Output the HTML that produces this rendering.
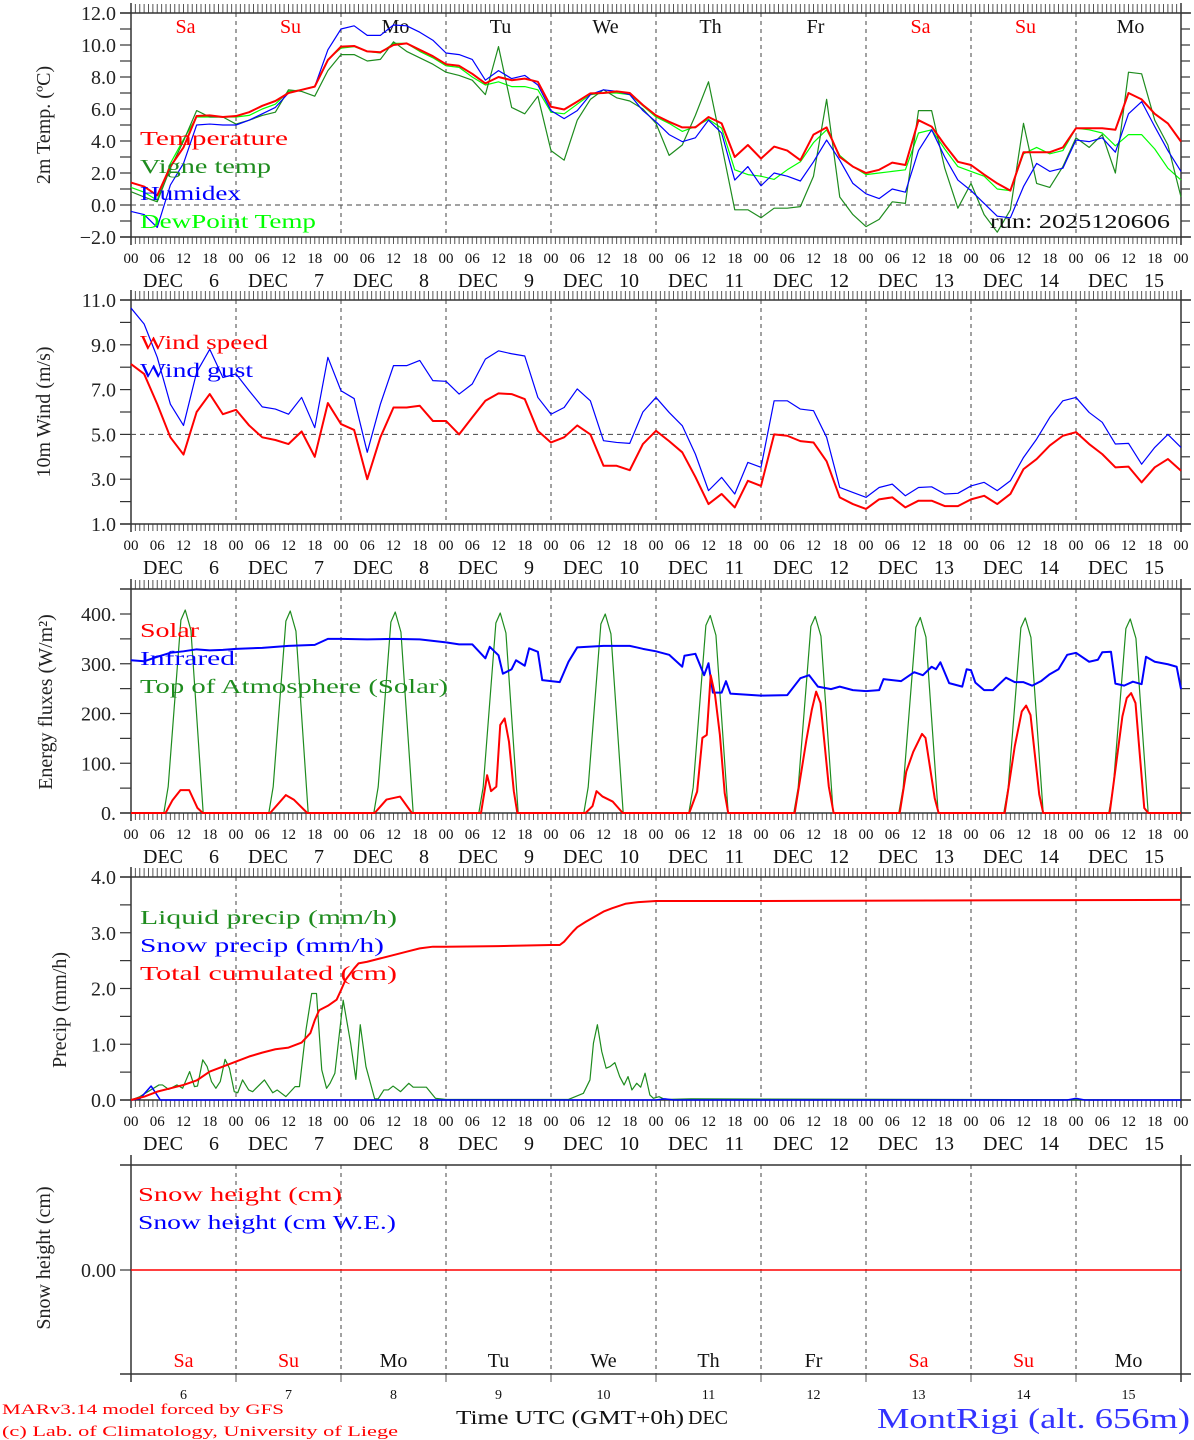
<!DOCTYPE html>
<html><head><meta charset="utf-8"><title>MontRigi meteogram</title>
<style>
html,body{margin:0;padding:0;background:#fff;}
svg{display:block;}
text{font-family:"Liberation Serif","DejaVu Serif",serif;}
</style></head>
<body>
<svg id="chart" xmlns="http://www.w3.org/2000/svg" width="1194" height="1440" viewBox="0 0 1194 1440"></svg>
<script>
// ---------- DATA ----------
const dayNames = ["Sa","Su","Mo","Tu","We","Th","Fr","Sa","Su","Mo"];
const dayNumbers = ["6","7","8","9","10","11","12","13","14","15"];
const hourLabels = ["00","06","12","18"];
const tempTicks = [-2,0,2,4,6,8,10,12];
const windTicks = [1,3,5,7,9,11];
const fluxTicks = [0,100,200,300,400];
const precipTicks = [0,1,2,3,4];

// 3-hourly series (h = 0..240)
const temperature = [1.4,1.15,0.6,2.4,3.6,5.56,5.6,5.5,5.56,5.8,6.2,6.5,7.0,7.2,7.4,9.06,9.9,9.94,9.6,9.55,10.0,10.1,9.7,9.3,8.8,8.7,8.2,7.6,8.0,7.8,7.9,7.7,6.14,5.97,6.46,6.98,7.0,7.1,7.0,6.25,5.6,5.2,4.85,4.85,5.5,5.1,3.0,3.75,2.9,3.65,3.4,2.8,4.4,4.85,3.0,2.4,2.0,2.2,2.65,2.5,5.3,4.9,3.75,2.7,2.5,1.9,1.35,0.9,3.3,3.3,3.3,3.6,4.8,4.8,4.8,4.7,7.0,6.6,5.7,5.1,3.96];
const vigneTemp = [0.83,0.5,0.2,2.3,4.0,5.9,5.5,5.5,5.06,5.3,5.6,5.8,7.2,7.1,6.8,8.4,9.4,9.4,9.0,9.1,10.2,9.6,9.2,8.8,8.3,8.1,7.8,6.9,9.9,6.1,5.7,6.8,3.4,2.8,5.3,6.6,7.2,6.7,6.5,6.0,5.1,3.1,3.75,5.6,7.7,3.75,-0.3,-0.3,-0.8,-0.2,-0.2,-0.1,1.8,6.6,0.5,-0.6,-1.35,-0.9,0.2,0.1,5.9,5.9,2.3,-0.2,1.35,-0.6,-1.7,-0.3,5.1,1.35,1.1,2.4,4.2,3.6,4.4,2.0,8.3,8.2,5.3,3.75,0.5];
const humidex = [-0.4,-0.6,-1.4,1.25,2.6,5.0,5.06,5.0,5.0,5.3,5.7,6.1,7.0,7.2,7.4,9.7,11.0,11.2,10.6,10.6,11.25,11.2,10.8,10.3,9.5,9.4,9.1,7.8,8.4,7.9,8.1,7.5,5.9,5.4,5.9,6.9,7.2,7.1,6.9,5.9,5.2,4.4,3.96,4.2,5.3,4.5,1.56,2.4,1.2,2.0,1.8,1.5,2.7,4.06,2.8,1.35,0.7,0.4,1.0,0.8,3.4,4.7,3.0,1.56,0.9,0.1,-0.7,-0.8,1.15,2.6,2.1,2.3,4.06,3.96,4.2,3.3,5.7,6.46,4.9,3.4,2.1];
const dewPoint = [1.1,0.8,0.3,2.6,4.1,5.5,5.5,5.5,5.5,5.6,6.0,6.3,7.1,7.2,7.4,9.1,9.8,9.9,9.6,9.5,10.1,10.1,9.6,9.2,8.7,8.6,8.0,7.5,7.7,7.4,7.4,7.2,5.8,5.7,6.3,6.9,7.0,7.0,6.9,6.2,5.5,5.1,4.6,4.9,5.36,4.8,2.2,1.9,1.8,1.6,2.2,2.7,3.9,4.7,3.1,2.4,1.9,2.0,2.1,2.2,4.5,4.7,3.5,2.4,2.1,1.8,1.0,0.9,3.2,3.6,3.2,3.4,4.8,4.7,4.5,3.7,4.4,4.4,3.5,2.3,1.56];
const windSpeed = [8.14,7.7,6.35,4.87,4.1,6.0,6.8,5.9,6.1,5.4,4.87,4.75,4.57,5.13,4.0,6.4,5.46,5.2,3.0,4.87,6.2,6.2,6.28,5.6,5.6,5.0,5.76,6.5,6.83,6.8,6.58,5.16,4.64,4.87,5.4,5.0,3.6,3.6,3.4,4.57,5.16,4.7,4.2,3.1,1.89,2.34,1.74,2.93,2.7,5.0,4.94,4.7,4.64,3.8,2.19,1.89,1.67,2.1,2.19,1.74,2.04,2.04,1.8,1.8,2.1,2.26,1.89,2.34,3.45,3.9,4.5,4.94,5.1,4.57,4.12,3.53,3.56,2.86,3.53,3.9,3.38];
const windGust = [10.64,9.93,8.44,6.35,5.4,7.77,8.8,7.54,7.7,6.95,6.23,6.13,5.9,6.65,5.3,8.44,6.95,6.6,4.2,6.35,8.07,8.07,8.3,7.4,7.37,6.8,7.25,8.36,8.73,8.6,8.5,6.65,5.9,6.2,7.03,6.5,4.72,4.64,4.6,6.0,6.65,5.98,5.39,4.12,2.49,3.08,2.34,3.75,3.53,6.5,6.5,6.13,6.06,4.87,2.63,2.41,2.19,2.63,2.78,2.26,2.63,2.66,2.34,2.37,2.7,2.86,2.49,2.93,3.97,4.79,5.76,6.5,6.65,5.98,5.54,4.57,4.6,3.67,4.42,5.0,4.42];

// irregular series (hour, value)
const infraredTimes = [0,3,6,9,12,15,18,21,24,30,36,42,45,48,54,60,66,69,72,75,78,81,82,84,85,87,88,90,91,93,94,96,98,100,102,108,114,117,120,123,126,126.5,129,131,132,133,135,136,137,144,150,153,155,157,160,162,165,168,171,172,176,179,181,183,184,185,187,190,191,192,193,195,197,200,202,204,206,208,210,212,214,216,219,221,222,224,225,227,229,231,232,234,237,239,240];
const infraredValues = [307,305,314,322,325,329,327,328,330,332,336,338,350,350,349,350,349,346,343,339,339,311,334,317,280,289,307,296,331,324,267,265,263,304,333,336,336,330,325,318,294,316,320,277,301,242,242,265,240,236,237,271,277,254,249,254,247,245,247,269,265,283,277,294,289,303,261,254,289,287,262,247,247,272,263,263,256,265,279,289,318,322,304,308,323,324,260,256,264,259,314,304,299,294,249];
const solarTimes = [0,7.9,9.5,11.3,13.3,15.2,16.4,31.8,35.4,37.2,40.3,55.7,58.4,61.5,64.2,80,81.4,82.3,83.5,84.4,85.4,86.4,87.5,88.3,103.9,105.5,106.4,107.8,110.1,111.7,112.4,127.6,129.4,130.6,131.6,132.5,133.5,134.6,135.7,136.5,151.7,154.4,155.6,156.6,157.6,159.5,160.6,175.7,177.2,178.8,180.8,181.6,183.7,184.6,199.7,202,203.6,204.6,205.6,207.6,208.5,223.7,226.6,227.6,228.6,229.6,231.6,232.5,240];
const solarValues = [0,0,26,46,46,10,0,0,36,27,0,0,27,33,0,0,76,44,53,177,190,143,44,0,0,14,44,33,23,7,0,0,43,151,157,277,237,157,40,0,0,148,207,244,221,53,0,0,83,123,159,151,30,0,0,134,204,216,197,37,0,0,194,231,241,221,10,0,0];
const toaPeaks = [408,406,404,402,400,397,395,393,392,390];
const toaNoonHour = 12.4;
const toaProfileOffsets = [-4.9,-3.9,-1.0,0,1.3,4.1];
const toaProfileShares = [0,0.13,0.95,1,0.9,0];

const cumulTimes = [0,3,6,9,12,15,18,21,24,27,30,33,36,39,41,42,43,45,47,48,49,51,52,54,57,60,63,66,69,72,84,96,98,99,100,101,102,104,106,108,110,113,116,120,144,192,240];
const cumulValues = [0,0.06,0.15,0.21,0.27,0.35,0.51,0.6,0.69,0.78,0.85,0.91,0.94,1.03,1.2,1.43,1.61,1.69,1.8,1.97,2.15,2.36,2.45,2.48,2.54,2.6,2.66,2.72,2.75,2.75,2.76,2.78,2.78,2.84,2.93,3.02,3.1,3.2,3.29,3.38,3.44,3.52,3.55,3.57,3.57,3.58,3.59];
const liquidTimes = [0,2,6.4,7.2,8.6,10.5,11.8,13.4,14.5,15.2,16.4,17.4,18.4,19.4,20.4,21.5,22.5,23.6,24.4,25.5,26.9,27.8,30.5,32.4,33.4,35.4,37.5,38.5,40,41.3,42.4,43.6,44.7,45.5,46.6,48.5,50.2,51.4,52.4,53.7,55.7,56.5,57.8,58.8,59.9,61.6,63.5,64.5,67.5,69.6,72,100,103.4,104.9,105.7,106.6,107.6,108.6,109.5,110.6,111.7,112.7,113.6,114.5,115.6,116.5,117.5,118.6,119.4,120.7,122,128,240];
const liquidValues = [0,0.06,0.27,0.27,0.19,0.27,0.21,0.51,0.24,0.25,0.72,0.6,0.33,0.21,0.33,0.73,0.57,0.15,0.13,0.36,0.18,0.15,0.36,0.13,0.18,0.06,0.24,0.24,1.26,1.91,1.91,0.54,0.21,0.3,0.48,1.79,1.02,0.37,1.35,0.6,0.02,0.02,0.18,0.18,0.25,0.15,0.3,0.23,0.23,0.03,0.01,0.01,0.12,0.36,1.02,1.35,0.87,0.57,0.6,0.67,0.42,0.27,0.42,0.18,0.3,0.23,0.48,0.09,0.03,0.06,0.01,0.02,0];
const snowPrecipTimes = [0,2,4.6,6.7,120,122,124,214,216,218,240];
const snowPrecipValues = [0,0.02,0.25,0,0,0.02,0,0,0.03,0,0];
const snowHeightTimes = [0,240];
const snowHeightValues = [0,0];

// ---------- GEOMETRY ----------
const NS = "http://www.w3.org/2000/svg";
const svg = document.getElementById("chart");
const X0 = 131, X1 = 1181;
function xh(h){ return X0 + h*(X1-X0)/240; }
function makeY(top,bottom,vmin,vmax){ return v => bottom - (v-vmin)*(bottom-top)/(vmax-vmin); }
const P1 = {top:13,bottom:237,y:makeY(13,237,-2,12)};
const P2 = {top:300,bottom:524,y:makeY(300,524,1,11)};
const P3 = {top:589,bottom:813,y:makeY(614,813,0,400)};
const P4 = {top:877,bottom:1100,y:makeY(877,1100,0,4)};
const P5 = {top:1165,bottom:1374,y:makeY(1165,1375,1,-1)};
const hours3 = [];
for(let i=0;i<=80;i++){ hours3.push(i*3); }

function el(tag, attrs, name, parent){
  const e = document.createElementNS(NS, tag);
  for(const k in attrs){ e.setAttribute(k, attrs[k]); }
  
  
  (parent||svg).appendChild(e);
  return e;
}
function line(x1,y1,x2,y2,stroke,sw,name,dash){
  const a = {x1:x1,y1:y1,x2:x2,y2:y2,stroke:stroke,'stroke-width':sw};
  if(dash) a['stroke-dasharray']=dash;
  return el('line',a,name);
}
function text(x,y,s,size,fill,anchor,name,len){
  const a = {x:x,y:y,'font-size':size,fill:fill,'text-anchor':anchor||'start'};
  if(len){ a.textLength=len; a.lengthAdjust='spacingAndGlyphs'; }
  const t = el('text',a,name);
  t.textContent = s;
  return t;
}
function series(times, values, yfn, color, sw, name){
  let d = "";
  for(let i=0;i<times.length;i++){
    d += (i?"L":"M") + xh(times[i]).toFixed(2) + "," + yfn(values[i]).toFixed(2);
  }
  return el('path',{d:d,fill:'none',stroke:color,'stroke-width':sw,'stroke-linejoin':'round'},name);
}

const AX = "#333";
function frame(P, opts){
  const pre = opts.prefix;
  for(let d=1; d<10; d++){
    line(xh(d*24),P.top,xh(d*24),P.bottom,"#444",1,pre+"-day-gridline","4,4");
  }
  if(opts.hourTicks){
    for(let h=0; h<=240; h++){
      line(xh(h),P.top-9,xh(h),P.top,"#555",1,pre+"-top-tick");
      line(xh(h),P.bottom,xh(h),P.bottom+7,"#555",1,pre+"-bottom-tick");
    }
  } else {
    for(let d=0; d<=10; d++){
      line(xh(d*24),P.bottom,xh(d*24),P.bottom+8,"#555",1,pre+"-day-tick");
    }
  }
  line(X0-11,P.top,X1+10,P.top,AX,1.5,pre+"-frame-top");
  line(X0-11,P.bottom,X1+10,P.bottom,AX,1.5,pre+"-frame-bottom");
  line(X0,P.top-10,X0,P.bottom+8,AX,1.5,pre+"-frame-left");
  line(X1,P.top-10,X1,P.bottom+8,AX,1.5,pre+"-frame-right");
}
function yTicks(P, vals, minorStep, fmt, prefix){
  const lo = Math.min(...vals), hi = Math.max(...vals);
  for(let v=lo; v<=hi+1e-9; v+=minorStep){
    const y = P.y(v);
    line(X0-11,y,X0,y,AX,1.2,prefix+"-y-tick");
    line(X1,y,X1+9,y,AX,1.2,prefix+"-y-tick-right");
  }
  vals.forEach(v=>{
    text(116,P.y(v)+7,fmt(v),20,"#222","end",prefix+"-y-label");
  });
}
function xLabels(P, prefix){
  for(let h=0; h<=240; h+=6){
    text(xh(h),P.bottom+26,hourLabels[(h/6)%4],15,"#111","middle",prefix+"-hour-label");
  }
  for(let d=0; d<10; d++){
    text(xh(d*24)+12,P.bottom+50,"DEC",20,"#111","start",prefix+"-dec-label");
    text(xh(d*24)+88,P.bottom+50,dayNumbers[d],20,"#111","end",prefix+"-day-number");
  }
}
function yTitle(cx, cy, s, name){
  const t = text(0,0,s,20,"#222","middle",name);
  t.setAttribute('transform','translate('+cx+','+cy+') rotate(-90)');
  return t;
}
const dayColor = d => (dayNames[d]==="Sa"||dayNames[d]==="Su") ? "#ff0000" : "#111";

// ---------- PANEL 1 ----------
frame(P1,{prefix:"temp",hourTicks:true});
line(X0,P1.y(0),X1,P1.y(0),"#444",1,"temp-zero-line","5,4");
yTicks(P1,tempTicks,1,v=>(v<0?"\u2212":"")+Math.abs(v).toFixed(1),"temp");
for(let d=0; d<10; d++){
  text(xh(d*24+12)+2,33,dayNames[d],20,dayColor(d),"middle","temp-weekday-label");
}
series(hours3,dewPoint,P1.y,"#00ff00",1.2,"dewpoint-line");
series(hours3,vigneTemp,P1.y,"#1e8c1e",1.2,"vigne-temp-line");
series(hours3,humidex,P1.y,"#0000ff",1.2,"humidex-line");
series(hours3,temperature,P1.y,"#ff0000",2,"temperature-line");
text(140,145,"Temperature",20,"#ff0000","start","legend-temperature",148);
text(140,173,"Vigne temp",20,"#1e8c1e","start","legend-vigne-temp",131);
text(140,200,"Humidex",20,"#0000ff","start","legend-humidex",101);
text(140,228,"DewPoint Temp",20,"#00ff00","start","legend-dewpoint",176);
text(990,228,"run: 2025120606",20,"#111","start","run-label",180);
xLabels(P1,"temp");
yTitle(50,125,"2m Temp. (\u00baC)","temp-y-title");

// ---------- PANEL 2 ----------
frame(P2,{prefix:"wind",hourTicks:true});
line(X0,P2.y(5),X1,P2.y(5),"#444",1,"wind-5-line","5,4");
yTicks(P2,windTicks,1,v=>v.toFixed(1),"wind");
series(hours3,windGust,P2.y,"#0000ff",1.2,"wind-gust-line");
series(hours3,windSpeed,P2.y,"#ff0000",2,"wind-speed-line");
text(140,349,"Wind speed",20,"#ff0000","start","legend-wind-speed",128);
text(140,377,"Wind gust",20,"#0000ff","start","legend-wind-gust",113);
xLabels(P2,"wind");
yTitle(50,412,"10m Wind (m/s)","wind-y-title");

// ---------- PANEL 3 ----------
frame(P3,{prefix:"flux",hourTicks:true});
yTicks(P3,fluxTicks,50,v=>v+".","flux");
const toaTimes = [0], toaValues = [0];
toaPeaks.forEach((pk,d)=>{
  toaProfileOffsets.forEach((o,i)=>{
    toaTimes.push(d*24+toaNoonHour+o);
    toaValues.push(pk*toaProfileShares[i]);
  });
});
toaTimes.push(240); toaValues.push(0);
series(toaTimes,toaValues,P3.y,"#1e8c1e",1.2,"toa-solar-line");
series(infraredTimes,infraredValues,P3.y,"#0000ff",2,"infrared-line");
series(solarTimes,solarValues,P3.y,"#ff0000",2,"solar-line");
text(140,637,"Solar",20,"#ff0000","start","legend-solar",59);
text(140,665,"Infrared",20,"#0000ff","start","legend-infrared",95);
text(140,693,"Top of Atmosphere (Solar)",20,"#1e8c1e","start","legend-toa",308);
xLabels(P3,"flux");
yTitle(52,702,"Energy fluxes (W/m\u00b2)","flux-y-title");

// ---------- PANEL 4 ----------
frame(P4,{prefix:"precip",hourTicks:true});
yTicks(P4,precipTicks,0.5,v=>v.toFixed(1),"precip");
series(liquidTimes,liquidValues,P4.y,"#1e8c1e",1.2,"liquid-precip-line");
series(snowPrecipTimes,snowPrecipValues,P4.y,"#0000ff",1.5,"snow-precip-line");
series(cumulTimes,cumulValues,P4.y,"#ff0000",2,"total-cumulated-line");
text(140,924,"Liquid precip (mm/h)",20,"#1e8c1e","start","legend-liquid-precip",257);
text(140,952,"Snow precip (mm/h)",20,"#0000ff","start","legend-snow-precip",244);
text(140,980,"Total cumulated (cm)",20,"#ff0000","start","legend-total-cumulated",257);
xLabels(P4,"precip");
yTitle(66,1010,"Precip (mm/h)","precip-y-title");

// ---------- PANEL 5 ----------
frame(P5,{prefix:"snow",hourTicks:false});
line(X0-11,P5.y(0),X0,P5.y(0),AX,1.2,"snow-y-tick");
text(116,P5.y(0)+7,"0.00",20,"#222","end","snow-y-label");
series(snowHeightTimes,snowHeightValues,P5.y,"#ff0000",1.5,"snow-height-line");
text(138,1201,"Snow height (cm)",20,"#ff0000","start","legend-snow-height",204);
text(138,1229,"Snow height (cm W.E.)",20,"#0000ff","start","legend-snow-we",258);
for(let d=0; d<10; d++){
  text(xh(d*24+12),1367,dayNames[d],20,dayColor(d),"middle","snow-weekday-label");
  text(xh(d*24+12),1399,dayNumbers[d],14,"#111","middle","snow-day-number");
}
yTitle(50,1258,"Snow height (cm)","snow-y-title");

// ---------- FOOTER ----------
text(456,1424,"Time UTC (GMT+0h)",20,"#111","start","x-axis-title",228);
text(688,1424,"DEC",20,"#111","start","x-axis-month",40);
text(2,1414,"MARv3.14 model forced by GFS",15,"#ff0000","start","model-credit",282);
text(2,1436,"(c) Lab. of Climatology, University of Liege",15,"#ff0000","start","lab-credit",396);
text(877,1428,"MontRigi (alt. 656m)",28,"#3333ff","start","station-title",313);
</script>
</body></html>
